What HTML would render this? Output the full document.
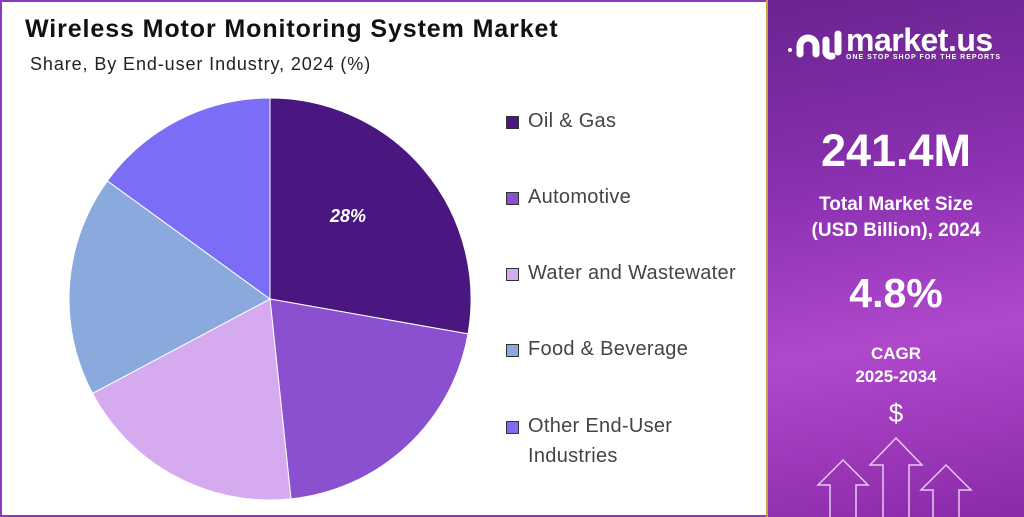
<!DOCTYPE html>
<html><head><style>
body{margin:0;width:1024px;height:517px;overflow:hidden;font-family:"Liberation Sans",sans-serif;background:#fff;position:relative}
.left{position:absolute;left:0;top:0;width:764px;height:513px;border:2px solid #8a3cc0;border-right:none;box-sizing:content-box}
.right{position:absolute;left:766px;top:0;width:258px;height:517px;background:linear-gradient(170deg,#6a2490 0%,#8a30b0 35%,#b048cc 65%,#8a2aa8 100%);border-left:2px solid #c8a040;box-sizing:border-box;color:#fff;text-align:center;font-weight:bold}
.lg{position:absolute;left:506px;font-size:20px;color:#444;letter-spacing:0.3px}
.sq{position:absolute;left:-2px;top:6px;width:11px;height:11px;border:1px solid #333}
.lg span{margin-left:20px}
</style></head><body>
<div class="left">
<div style="position:absolute;left:23px;top:13px;font-size:25px;font-weight:bold;color:#111;letter-spacing:0.9px">Wireless Motor Monitoring System Market</div>
<div style="position:absolute;left:28px;top:52px;font-size:18px;color:#222;letter-spacing:0.9px">Share, By End-user Industry, 2024 (%)</div>
<svg style="position:absolute;left:-2px;top:-2px" width="764" height="517">
<g stroke="#fff" stroke-width="1">
<path d="M270,299 L270,98 A201,201 0 0 1 468,333.9 Z" fill="#4a1680"/>
<path d="M270,299 L468,333.9 A201,201 0 0 1 291,498.9 Z" fill="#8a50d0"/>
<path d="M270,299 L291,498.9 A201,201 0 0 1 92.5,393.4 Z" fill="#d6aaee"/>
<path d="M270,299 L92.5,393.4 A201,201 0 0 1 107.4,180.9 Z" fill="#8aaade"/>
<path d="M270,299 L107.4,180.9 A201,201 0 0 1 270,98 Z" fill="#7b6df5"/>
</g>
<text x="348" y="222" fill="#fff" font-size="18" font-weight="bold" font-style="italic" text-anchor="middle" font-family="Liberation Sans">28%</text>
</svg>
<div class="lg" style="top:108px"><div class="sq" style="background:#4a1680"></div><span>Oil &amp; Gas</span></div>
<div class="lg" style="top:184px"><div class="sq" style="background:#8a50d0"></div><span>Automotive</span></div>
<div class="lg" style="top:260px"><div class="sq" style="background:#d6aaee"></div><span>Water and Wastewater</span></div>
<div class="lg" style="top:336px"><div class="sq" style="background:#8aaade"></div><span>Food &amp; Beverage</span></div>
<div class="lg" style="top:409px;line-height:30px"><div class="sq" style="background:#7b6df5;top:10px"></div><span>Other End-User</span><br><span>Industries</span></div>
</div>
<div class="right">
<svg style="position:absolute;left:16px;top:28px" width="60" height="36" fill="none" stroke="#fff" stroke-width="7" stroke-linecap="round">
<circle cx="6" cy="22" r="2" fill="#fff" stroke="none"/>
<path d="M16,26 V18 A8,8 0 0 1 32,18 V26"/>
<path d="M42,12 V22 A5,5 0 0 0 48,28"/>
<path d="M54,6 V24"/>
</svg>
<div style="position:absolute;left:78px;top:22px;font-size:32px;letter-spacing:-0.5px">market.us</div>
<div style="position:absolute;left:78px;top:54px;font-size:7px;letter-spacing:1px">ONE STOP SHOP FOR THE REPORTS</div>
<div style="position:absolute;left:0;width:256px;top:125px;font-size:45px">241.4M</div>
<div style="position:absolute;left:0;width:256px;top:192px;font-size:19px;line-height:26px">Total Market Size<br>(USD Billion), 2024</div>
<div style="position:absolute;left:0;width:256px;top:270px;font-size:41px">4.8%</div>
<div style="position:absolute;left:0;width:256px;top:342px;font-size:17px;line-height:23px">CAGR<br>2025-2034</div>
<div style="position:absolute;left:0;width:256px;top:398px;font-size:26px;font-weight:normal">$</div>
<svg style="position:absolute;left:0;top:430px" width="256" height="87" fill="none" stroke="#e8c8f0" stroke-width="1.5">
<path d="M62,87 V55 H50 L75,30 L100,55 H88 V87"/>
<path d="M115,87 V35 H102 L128,8 L154,35 H141 V87"/>
<path d="M165,87 V60 H153 L178,35 L203,60 H191 V87"/>
</svg>
</div>
</body></html>
